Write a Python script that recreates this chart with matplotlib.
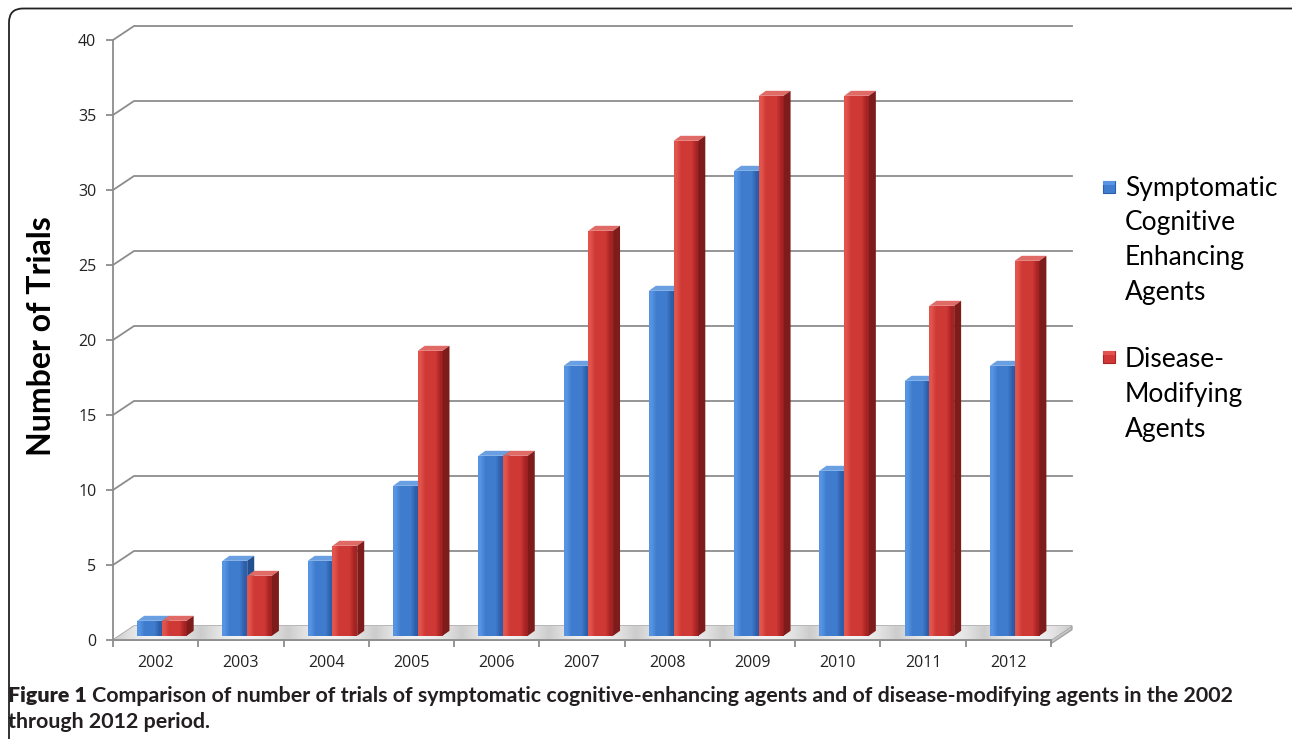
import matplotlib
matplotlib.use("Agg")
import matplotlib.pyplot as plt
import numpy as np
from matplotlib.patches import Polygon, Rectangle, FancyBboxPatch
from matplotlib.transforms import IdentityTransform

# ---------------- data ----------------
years = ['2002', '2003', '2004', '2005', '2006', '2007', '2008', '2009', '2010', '2011', '2012']
symptomatic = [1, 5, 5, 10, 12, 18, 23, 31, 11, 17, 18]
disease_modifying = [1, 4, 6, 19, 12, 27, 33, 36, 36, 22, 25]
series_labels = ['Symptomatic\nCognitive\nEnhancing\nAgents', 'Disease-\nModifying\nAgents']
y_ticks = [0, 5, 10, 15, 20, 25, 30, 35, 40]
y_label = 'Number of Trials'
caption_bold = 'Figure 1'
caption_line1 = 'Comparison of number of trials of symptomatic cognitive-enhancing agents and of disease-modifying agents in the 2002'
caption_line2 = 'through 2012 period.'

# ---------------- styles ----------------
W, H = 1292, 739
FONT = ['Lato', 'DejaVu Sans']
TICKFONT = ['Open Sans', 'DejaVu Sans']
GRID = '#8c8c8c'
blue_front = [(0.34, 0.58, 0.89), (0.25, 0.49, 0.81), (0.18, 0.37, 0.67)]
blue_top = '#6a9fe2'
blue_side = '#23508f'
red_front = [(0.88, 0.33, 0.30), (0.81, 0.22, 0.21), (0.65, 0.14, 0.14)]
red_top = '#e06a66'
red_side = '#7e1c1c'

fig = plt.figure(figsize=(W / 100, H / 100), dpi=100)
fig.patch.set_facecolor('white')

# frame around the figure (rounded top-left corner)
frame = FancyBboxPatch((9, -30), 1300, 731 + 30 - 0.5, boxstyle='round,pad=0,rounding_size=14',
                       transform=IdentityTransform(), fc='none', ec='#222222', lw=1.3)
fig.add_artist(frame)

ax = fig.add_axes([113 / W, (H - 640) / H, (1051 - 113) / W, 600 / H])
n = len(years)
ax.set_xlim(-0.5, n - 0.5)
ax.set_ylim(0, 40)
ax.set_facecolor('none')

ppx = 938 / n          # pixels per category
ppy = 15.0             # pixels per unit
WDX, WDY = 21 / ppx, 14 / ppy      # wall depth offset
BDX, BDY = 0.30 * WDX, 0.30 * WDY  # bar placement depth
DDX, DDY = 7 / ppx, 5 / ppy        # bar depth

# back wall gridlines
for v in y_ticks[1:]:
    ax.plot([-0.5, -0.5 + WDX, n - 0.5 + WDX], [v, v + WDY, v + WDY],
            color=GRID, lw=1.3, clip_on=False, zorder=1)

# floor
floor = Polygon([(-0.5, 0), (n - 0.5, 0), (n - 0.5 + WDX, WDY), (-0.5 + WDX, WDY)],
                closed=True, fc='#d4d4d4', ec='#9a9a9a', lw=1.0, clip_on=False, zorder=1.5)
ax.add_patch(floor)
g = np.linspace(0, 1, 400)
floor_grad = 0.80 + 0.15 * np.abs(np.sin(g * np.pi * 11))
fimg = ax.imshow(np.dstack([floor_grad] * 3), extent=[-0.5, n - 0.5 + WDX, 0, WDY],
                 aspect='auto', interpolation='bilinear', zorder=1.6)
fimg.set_clip_box(fig.bbox)
fimg.set_clip_path(floor)
# floor thickness
ax.add_patch(Polygon([(n - 0.5, 0), (n - 0.5 + WDX, WDY), (n - 0.5 + WDX, WDY - 0.25), (n - 0.5, -0.25)],
                     closed=True, fc='#c4c4c4', ec='#9a9a9a', lw=0.8, clip_on=False, zorder=1.5))

# spines & ticks
for s in ['top', 'right']:
    ax.spines[s].set_visible(False)
for s in ['left', 'bottom']:
    ax.spines[s].set_color(GRID)
    ax.spines[s].set_linewidth(1.3)
    ax.spines[s].set_zorder(2)
ax.set_yticks(y_ticks)
ax.set_yticklabels([str(t) for t in y_ticks], fontfamily=TICKFONT)
ax.tick_params(axis='y', direction='out', length=5, width=1.3, color=GRID,
               labelsize=11.5, labelcolor='#222222', pad=7)
ax.set_xticks(np.arange(-0.5, n, 1.0))
ax.set_xticklabels([])
ax.set_xticks(np.arange(n), minor=True)
ax.set_xticklabels(years, minor=True, fontfamily=TICKFONT)
ax.tick_params(axis='x', which='major', direction='out', length=5, width=1.3, color=GRID)
ax.tick_params(axis='x', which='minor', length=0, labelsize=11.5, labelcolor='#222222', pad=11)

# bars
bw = 0.29
x = np.arange(n)


def shade(container, vals, front, top_c, side_c, base_z):
    for i, (p, v) in enumerate(zip(container.patches, vals)):
        z = 3 + i * 0.1 + base_z
        p.set_zorder(z)
        x0 = p.get_x()
        x1 = x0 + p.get_width()
        y0 = p.get_y()
        y1 = y0 + p.get_height()
        grad = np.array([front[0], front[1], front[1], front[1], front[2]])
        img = ax.imshow(grad[None, :, :], extent=[x0, x1, y0, y1], aspect='auto',
                        interpolation='bilinear', zorder=z + 0.001)
        img.set_clip_path(p)
        ax.add_patch(Polygon([(x0, y1), (x1, y1), (x1 + DDX, y1 + DDY), (x0 + DDX, y1 + DDY)],
                             closed=True, fc=top_c, ec='none', zorder=z + 0.002))
        ax.add_patch(Polygon([(x1, y0), (x1, y1), (x1 + DDX, y1 + DDY), (x1 + DDX, y0 + DDY)],
                             closed=True, fc=side_c, ec='none', zorder=z + 0.002))


b1 = ax.bar(x - bw / 2 + BDX, symptomatic, width=bw, bottom=BDY, color=blue_front[1],
            label=series_labels[0])
b2 = ax.bar(x + bw / 2 + BDX, disease_modifying, width=bw, bottom=BDY, color=red_front[1],
            label=series_labels[1])
shade(b1, symptomatic, blue_front, blue_top, blue_side, 0.0)
shade(b2, disease_modifying, red_front, red_top, red_side, 0.05)
ax.set_xlim(-0.5, n - 0.5)
ax.set_ylim(0, 40)

# y label
fig.text(42 / W, 1 - 336 / H, y_label, rotation=90, fontsize=23, fontweight='bold',
         ha='center', va='center', family=FONT, color='black')

# legend (manual, marker aligned with first line)
leg = [(series_labels[0], blue_front, 181, 300), (series_labels[1], red_front, 351, 437)]
for lab, cols, ytop, ybase in leg:
    fig.add_artist(Rectangle((1103 / W, 1 - (ytop + 12) / H), 12 / W, 12 / H, transform=fig.transFigure,
                             fc=cols[1], ec=cols[2], lw=0.8))
    fig.add_artist(Rectangle((1103 / W, 1 - (ytop + 4) / H), 12 / W, 4 / H, transform=fig.transFigure,
                             fc=cols[0], ec='none', lw=0))
    fig.text(1125 / W, 1 - ybase / H, lab, fontsize=19, family=FONT, va='baseline', ha='left',
             linespacing=1.49, color='black', multialignment='left')

# caption
renderer = fig.canvas.get_renderer()
target = 1233 - 8
fs = 14
t_a = fig.text(8 / W, 1 - 702 / H, caption_bold, fontsize=fs, fontweight='heavy', family=FONT,
               color='#231f20', va='baseline')
t_b = fig.text(0, 1 - 702 / H, caption_line1, fontsize=fs, fontweight='bold', family=FONT,
               color='#231f20', va='baseline')
for _ in range(3):
    wa = t_a.get_window_extent(renderer).width
    wb = t_b.get_window_extent(renderer).width
    sp = fs * 100 / 72 * 0.26
    total = wa + sp + wb
    fs = fs * target / total
    t_a.set_fontsize(fs)
    t_b.set_fontsize(fs)
wa = t_a.get_window_extent(renderer).width
sp = fs * 100 / 72 * 0.26
t_b.set_x((8 + wa + sp) / W)
fig.text(8 / W, 1 - 728 / H, caption_line2, fontsize=fs, fontweight='bold', family=FONT,
         color='#231f20', va='baseline')

fig.savefig('out.png', dpi=100, facecolor='white')
